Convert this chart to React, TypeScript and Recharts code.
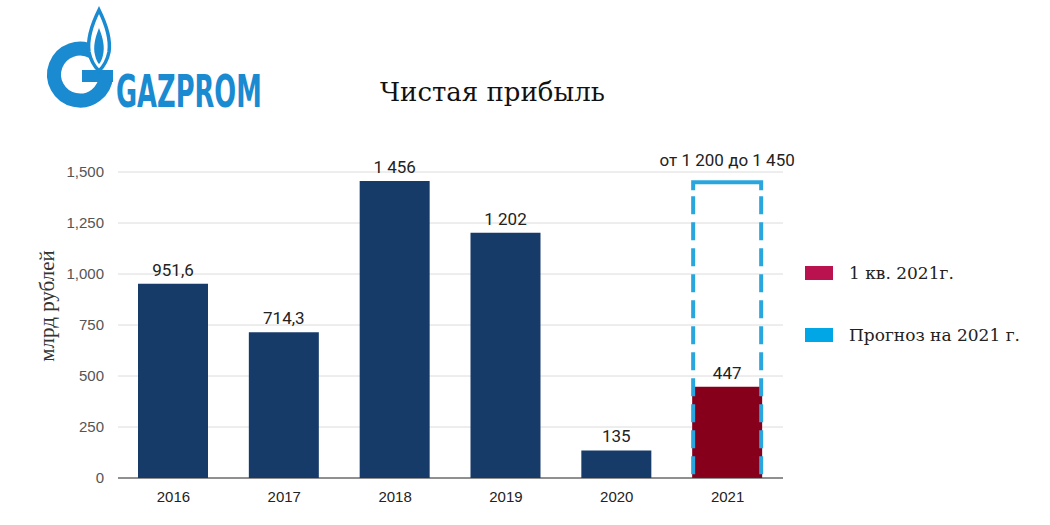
import { BarChart, Bar, XAxis, YAxis, CartesianGrid, LabelList, Cell } from 'recharts'

const years = ['2016', '2017', '2018', '2019', '2020', '2021']
const profit = [951.6, 714.3, 1456, 1202, 135, 447]
const profitLabels = ['951,6', '714,3', '1 456', '1 202', '135', '447']
const forecast = [null, null, null, null, null, 1450]
const forecastLabel = 'от 1 200 до 1 450'
const yTicks = [0, 250, 500, 750, 1000, 1250, 1500]
const legendItems = [
  { name: '1 кв. 2021г.', color: '#b9124f' },
  { name: 'Прогноз на 2021 г.', color: '#00a6e6' },
]

const data = years.map((year, i) => ({
  year,
  profit: profit[i],
  profitLabel: profitLabels[i],
  forecast: forecast[i],
}))

const NAVY = '#173b69'
const DARK_RED = '#86001b'
const DASH = '#2aa6df'

// dashed outline for the 2021 forecast
const ForecastShape = (props: any) => {
  const { x, y, width, height } = props
  if (!height) return null
  const b = y + height
  return (
    <g>
      <path d={`M${x},${y + 8} L${x},${y} L${x + width},${y} L${x + width},${y + 8}`} fill="none" stroke={DASH} strokeWidth={4} />
      <line x1={x} y1={y + 14} x2={x} y2={b} stroke={DASH} strokeWidth={4} strokeDasharray="18 8" />
      <line x1={x + width} y1={y + 14} x2={x + width} y2={b} stroke={DASH} strokeWidth={4} strokeDasharray="18 8" />
    </g>
  )
}

const ForecastLabel = (props: any) => {
  const { x, y, width, value } = props
  if (value == null) return null
  return (
    <text x={x + width / 2} y={y - 16} textAnchor="middle" fontFamily="Roboto, sans-serif" fontSize={17} fill="#222">
      {forecastLabel}
    </text>
  )
}

const LegendBox = () => (
  <div style={{ position: 'absolute', left: 805, top: 263, fontFamily: '"DejaVu Serif", serif', fontSize: 17, color: '#222' }}>
    {legendItems.map((it, i) => (
      <div key={it.name} style={{ display: 'flex', alignItems: 'center', marginBottom: i === 0 ? 42 : 0 }}>
        <span style={{ width: 28, height: 14, background: it.color, display: 'inline-block', marginRight: 16 }} />
        <span>{it.name}</span>
      </div>
    ))}
  </div>
)

const Logo = () => (
  <svg width={300} height={135} style={{ position: 'absolute', left: 40, top: 0 }}>
    {/* G ring, open at the upper right */}
    <path d="M 53 52 A 26 26 0 1 0 66 76" fill="none" stroke="#1a8ad1" strokeWidth={14} />
    <rect x={42} y={70} width={31} height={12} fill="#1a8ad1" />
    {/* flame */}
    <path d="M 59 10 C 52 24 47 38 49 52 C 51 62 56 68 59 71 C 62 68 67 62 69 52 C 71 38 66 24 59 10 Z" fill="#fff" stroke="#1a8ad1" strokeWidth={3.5} />
    <path d="M 59 28 C 55 38 53 47 55 55 C 56 60 58 63 59 64 C 60 63 62 60 63 55 C 65 47 63 38 59 28 Z" fill="#1a8ad1" />
    <text
      transform="translate(76,107) scale(0.65,1)"
      fontFamily='"Liberation Sans Narrow", "DejaVu Sans Condensed", sans-serif'
      fontWeight="bold"
      fontSize={44}
      fill="#1a8ad1"
    >
      GAZPROM
    </text>
  </svg>
)

export default function App() {
  return (
    <div style={{ position: 'absolute', left: 0, top: 0, width: 1050, height: 525, background: '#fff' }}>
      <Logo />
      <div style={{ position: 'absolute', left: 380, top: 77, fontFamily: '"DejaVu Serif", serif', fontSize: 26, color: '#111' }}>
        Чистая прибыль
      </div>
      <div
        style={{
          position: 'absolute', left: 47, top: 306, transform: 'translate(-50%, -50%) rotate(-90deg)',
          fontFamily: '"Liberation Serif", serif', fontSize: 21, color: '#333', whiteSpace: 'nowrap',
        }}
      >
        млрд рублей
      </div>
      <LegendBox />
      <BarChart
        width={1050}
        height={525}
        data={data}
        margin={{ top: 172, right: 267, bottom: 17, left: 8 }}
        style={{ position: 'absolute', left: 0, top: 0 }}
      >
        <CartesianGrid vertical={false} stroke="#dcdcdc" />
        <XAxis dataKey="year" axisLine={{ stroke: '#333' }} tickLine={false} tick={{ fontFamily: '"Liberation Sans", sans-serif', fontSize: 15, fill: '#222' }} tickMargin={7} />
        <XAxis xAxisId="fc" dataKey="year" hide />
        <YAxis
          width={110}
          domain={[0, 1500]}
          ticks={yTicks}
          axisLine={false}
          tickLine={false}
          tickMargin={8}
          tickFormatter={(v: number) => v.toLocaleString('en-US')}
          tick={{ fontFamily: '"Liberation Sans", sans-serif', fontSize: 15, fill: '#555' }}
        />
        <Bar dataKey="profit" barSize={70} isAnimationActive={false}>
          {data.map((d, i) => (
            <Cell key={d.year} fill={i === data.length - 1 ? DARK_RED : NAVY} />
          ))}
          <LabelList dataKey="profitLabel" position="top" offset={8} style={{ fontFamily: 'Roboto, sans-serif', fontSize: 17, fill: '#222' }} />
        </Bar>
        <Bar dataKey="forecast" xAxisId="fc" barSize={68} isAnimationActive={false} shape={<ForecastShape />}>
          <LabelList dataKey="forecast" content={<ForecastLabel />} />
        </Bar>
      </BarChart>
    </div>
  )
}
